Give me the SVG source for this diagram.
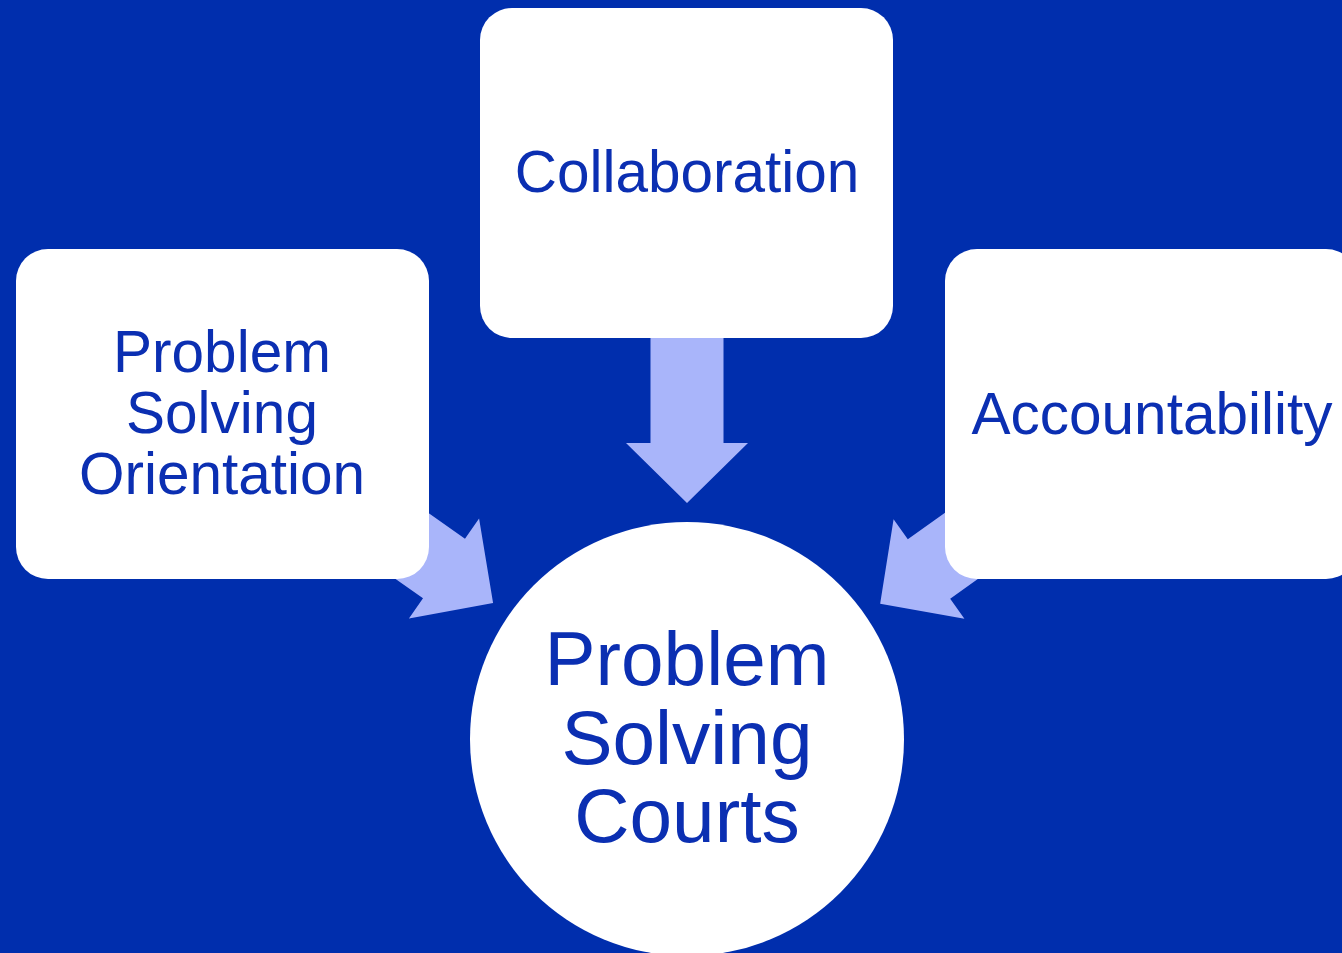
<svg xmlns="http://www.w3.org/2000/svg" width="1342" height="953" viewBox="0 0 1342 953">
<defs>
<style>
.bg{fill:#002EAD}
.box{fill:#ffffff}
.arrow{fill:#A9B5FA}
.t{font-family:"Liberation Sans",Arial,sans-serif;fill:#0B2FB2;text-anchor:middle}
.s58{font-size:58.5px}
.s76{font-size:76.5px}
</style>
<polygon id="arr" points="-200,-36.5 0,-36.5 0,-61 60,0 0,61 0,36.5 -200,36.5"/>
</defs>
<rect class="bg" x="0" y="0" width="1342" height="953"/>
<g id="connectors" class="arrow">
<use href="#arr" transform="translate(687,443) rotate(90)"/>
<use href="#arr" transform="translate(444,568.5) rotate(35.1)"/>
<use href="#arr" transform="translate(929,569) rotate(144.5)"/>
</g>
<g id="collaboration">
<rect class="box" x="480" y="8" width="413" height="330" rx="32"/>
<text class="t s58" x="687" y="192">Collaboration</text>
</g>
<g id="orientation">
<rect class="box" x="16" y="249" width="413" height="330" rx="32"/>
<text class="t s58" x="222" y="372">Problem</text>
<text class="t s58" x="222" y="433">Solving</text>
<text class="t s58" x="222" y="494">Orientation</text>
</g>
<g id="accountability">
<rect class="box" x="945" y="249" width="413" height="330" rx="32"/>
<text class="t s58" x="1152" y="434">Accountability</text>
</g>
<g id="courts">
<circle class="box" cx="687" cy="739" r="217"/>
<text class="t s76" x="687" y="685">Problem</text>
<text class="t s76" x="687" y="764">Solving</text>
<text class="t s76" x="687" y="842">Courts</text>
</g>
</svg>
